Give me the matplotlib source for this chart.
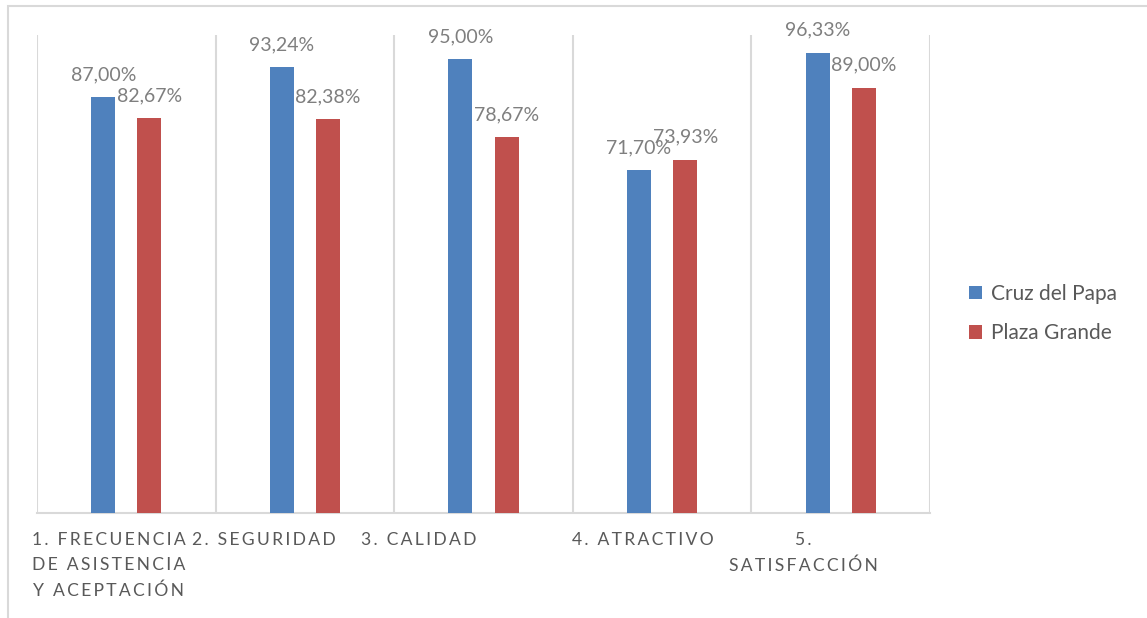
import matplotlib
matplotlib.use("Agg")
import matplotlib.pyplot as plt
import numpy as np
from matplotlib.patches import Rectangle

categories = ["1. FRECUENCIA\nDE ASISTENCIA\nY ACEPTACIÓN", "2. SEGURIDAD", "3. CALIDAD",
              "4. ATRACTIVO", "5.\nSATISFACCIÓN"]
series_names = ["Cruz del Papa", "Plaza Grande"]
cruz_del_papa = [87.00, 93.24, 95.00, 71.70, 96.33]
plaza_grande = [82.67, 82.38, 78.67, 73.93, 89.00]

# label centre shift (in category units) - Excel puts these a bit to the left
label_shift = [-0.10, -0.23, -0.36, -0.11, -0.21]

blue = "#4F81BD"
red = "#C0504D"
grey_text = "#595959"
grid_col = "#D9D9D9"

plt.rcParams['font.family'] = ['Lato', 'DejaVu Sans']


def spaced(s):
    # fake Excel's character spacing with hair spaces
    return "\n".join("\u200a\u200a".join(line) for line in s.split("\n"))


W, H = 1147, 618
fig = plt.figure(figsize=(W / 100, H / 100), dpi=100)
ax = fig.add_axes([37 / W, 1 - 513 / H, (930 - 37) / W, (513 - 35) / H])

x = np.arange(len(categories))
bw = 0.134
off = 0.129
b1 = ax.bar(x - off, cruz_del_papa, bw, color=blue, label=series_names[0], zorder=3)
b2 = ax.bar(x + off, plaza_grande, bw, color=red, label=series_names[1], zorder=3)

for bars, vals in [(b1, cruz_del_papa), (b2, plaza_grande)]:
    for rect, v in zip(bars, vals):
        ax.annotate(f"{v:.2f}".replace(".", ",") + "%",
                    (rect.get_x() + rect.get_width() / 2, v),
                    xytext=(0, 10), textcoords="offset points",
                    ha="center", va="bottom", fontsize=14, color="#7F7F7F", zorder=4)

ax.set_xlim(-0.5, len(categories) - 0.5)
ax.set_ylim(0, 100)
ax.set_yticks([])
ax.set_xticks([])
for b in np.arange(-0.5, len(categories), 1.0):
    ax.axvline(b, color=grid_col, lw=1.5, zorder=1)
for s in ["top", "left", "right"]:
    ax.spines[s].set_visible(False)
ax.spines["bottom"].set_color(grid_col)
ax.spines["bottom"].set_linewidth(1.5)

for i, lab in enumerate(categories):
    ax.text(i + label_shift[i], -0.04, spaced(lab), transform=ax.get_xaxis_transform(),
            ha="center", va="top", fontsize=12.6, color=grey_text, linespacing=1.68,
            multialignment="center")

leg = fig.legend(loc="center left", bbox_to_anchor=(969 / W, 1 - 313.5 / H),
                 frameon=False, fontsize=15, handlelength=0.62, handleheight=0.62,
                 handletextpad=0.45, labelspacing=0.95, borderpad=0, borderaxespad=0)
for t in leg.get_texts():
    t.set_color(grey_text)

# outer chart border (runs past the right/bottom of the picture)
fig.add_artist(Rectangle((8 / W, -0.1), 1.2, 1.1 - 6 / H, transform=fig.transFigure,
                         fill=False, edgecolor=grid_col, lw=1.5))

fig.savefig("out.png", dpi=100)
